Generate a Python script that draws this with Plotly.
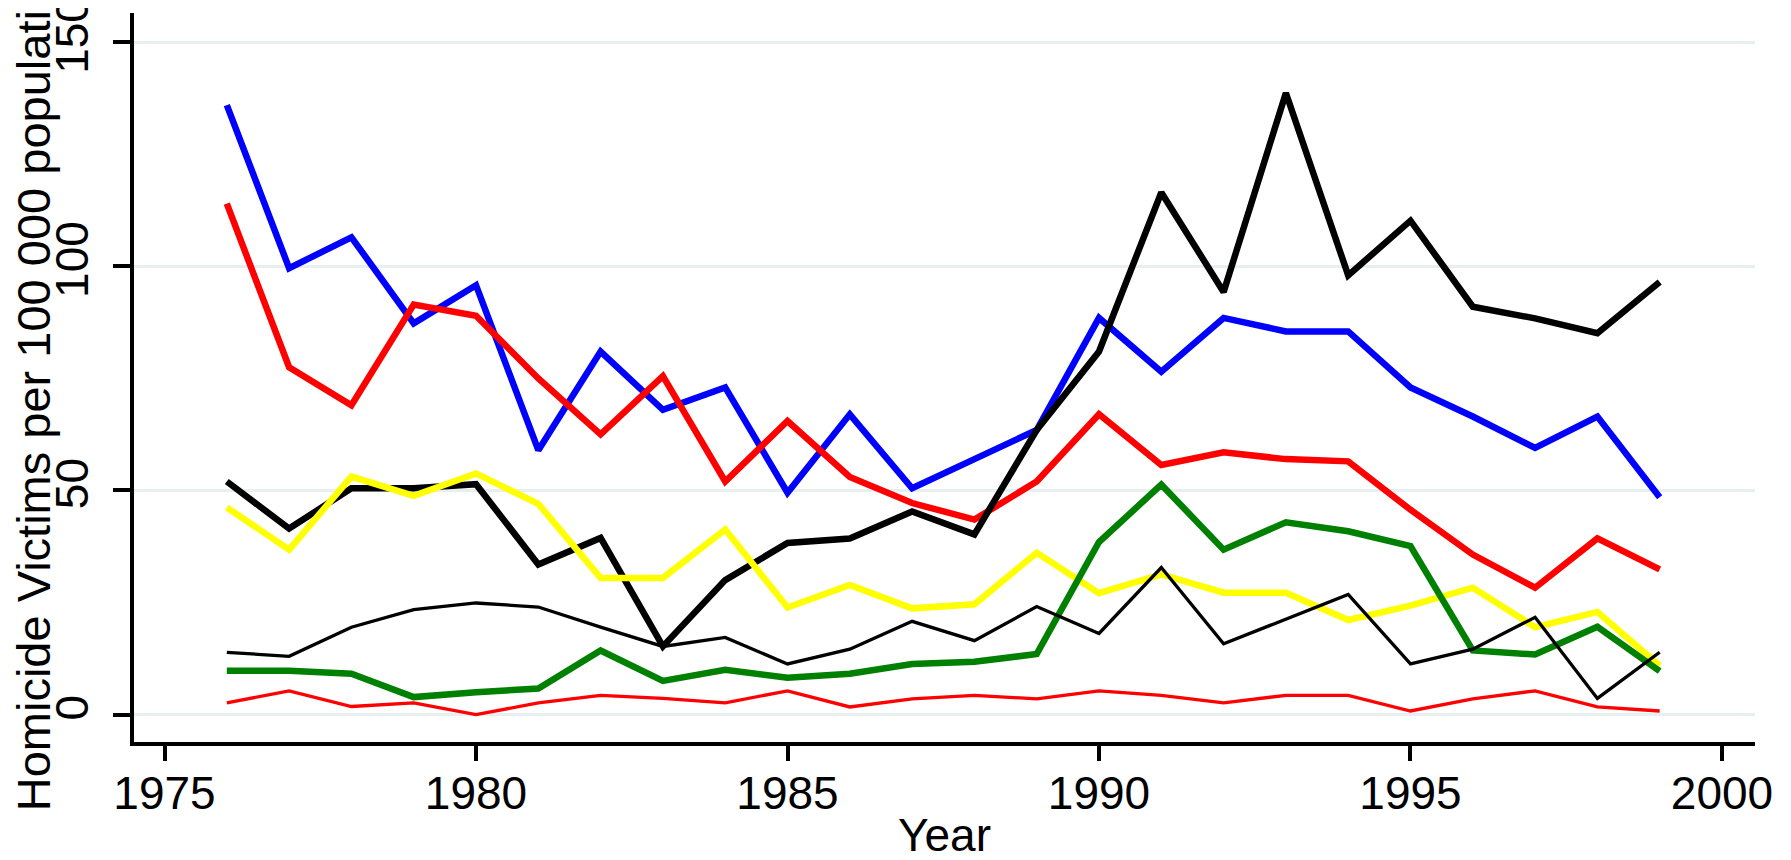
import plotly.graph_objects as go

years = [1976, 1977, 1978, 1979, 1980, 1981, 1982, 1983, 1984, 1985, 1986, 1987,
         1988, 1989, 1990, 1991, 1992, 1993, 1994, 1995, 1996, 1997, 1998, 1999]

blue_thick = [136, 99.6, 106.5, 87.3, 95.8, 59, 81, 68, 73, 49.5, 67, 50.5,
              57, 63.5, 88.5, 76.5, 88.5, 85.5, 85.5, 73, 66.5, 59.5, 66.5, 48.5]
red_thick = [114, 77.5, 69, 91.5, 89, 75, 62.5, 75.5, 52, 65.5, 53, 47.2,
             43.5, 52, 67, 55.7, 58.5, 57, 56.5, 45.7, 35.7, 28.3, 39.3, 32.4]
black_thick = [52, 41.5, 50.5, 50.5, 51.4, 33.5, 39.4, 15.2, 30, 38.3, 39.3, 45.3,
               40.2, 63.5, 81, 116.5, 94.3, 138.7, 98, 110.2, 91, 88.4, 85.1, 96.5]
yellow_thick = [46.2, 36.8, 53.1, 48.8, 53.8, 47, 30.5, 30.5, 41.3, 23.9, 28.9, 23.7,
                24.6, 36.1, 27.1, 31.3, 27.2, 27.2, 21.1, 24.3, 28.3, 19.5, 22.9, 10.9]
green_thick = [9.8, 9.8, 9.1, 3.9, 5, 5.8, 14.3, 7.5, 10, 8.2, 9.1, 11.3,
               11.8, 13.5, 38.5, 51.3, 36.8, 42.9, 40.9, 37.6, 14.3, 13.4, 19.6, 9.7]
black_thin = [13.9, 13, 19.5, 23.4, 24.9, 24, 19.5, 15.2, 17.2, 11.3, 14.6, 20.8,
              16.5, 24.1, 18.1, 32.8, 15.8, 21.3, 26.8, 11.3, 14.6, 21.7, 3.6, 13.9]
red_thin = [2.6, 5.3, 1.8, 2.6, 0, 2.6, 4.3, 3.6, 2.6, 5.3, 1.7, 3.5,
            4.3, 3.5, 5.3, 4.3, 2.6, 4.3, 4.3, 0.8, 3.5, 5.3, 1.7, 0.8]

x_ticks = [1975, 1980, 1985, 1990, 1995, 2000]
y_ticks = [0, 50, 100, 150]

FONT = "Liberation Sans, Arial, sans-serif"

# drawing order matters: later series sit on top
series = [
    (blue_thick, "#0000ff", 6.5),
    (red_thick, "#ff0000", 6.5),
    (black_thick, "#000000", 6.5),
    (yellow_thick, "#ffff00", 6.5),
    (green_thick, "#008000", 6.5),
    (black_thin, "#000000", 3.3),
    (red_thin, "#ff0000", 3.3),
]

fig = go.Figure()
for values, color, width in series:
    fig.add_trace(
        go.Scatter(
            x=years,
            y=values,
            mode="lines",
            line=dict(color=color, width=width),
            showlegend=False,
        )
    )

# page body has an 8px default margin, so the figure is 8px smaller
fig.update_layout(
    width=1783,
    height=852,
    margin=dict(l=126, r=36, t=5, b=118),
    plot_bgcolor="white",
    paper_bgcolor="white",
    font=dict(family=FONT, size=46, color="#000000"),
)

fig.update_xaxes(
    range=[1974.51, 2000.53],
    tickvals=x_ticks,
    ticks="outside",
    ticklen=15,
    tickwidth=4,
    tickcolor="black",
    ticklabelstandoff=-7,
    showline=True,
    linecolor="black",
    linewidth=4,
    showgrid=False,
    zeroline=False,
    tickfont=dict(size=46),
    automargin=False,
)

fig.update_yaxes(
    range=[-6.12, 156.54],
    tickvals=y_ticks,
    ticks="outside",
    ticklen=17,
    tickwidth=3.5,
    tickcolor="black",
    tickangle=-90,
    ticklabelstandoff=7,
    ticklabeloverflow="allow",
    showline=True,
    linecolor="black",
    linewidth=4,
    showgrid=True,
    gridcolor="#e8eff1",
    gridwidth=3,
    zeroline=False,
    tickfont=dict(size=46),
    automargin=False,
)

fig.add_annotation(
    text="Homicide Victims per 100 000 population",
    xref="paper", yref="paper",
    x=-0.062, y=0.49,
    xanchor="center", yanchor="middle",
    textangle=-90,
    showarrow=False,
    font=dict(size=47),
)
fig.add_annotation(
    text="Year",
    xref="paper", yref="paper",
    x=0.5, y=-0.128,
    xanchor="center", yanchor="middle",
    showarrow=False,
    font=dict(size=46),
)

fig.write_html("out.html")
